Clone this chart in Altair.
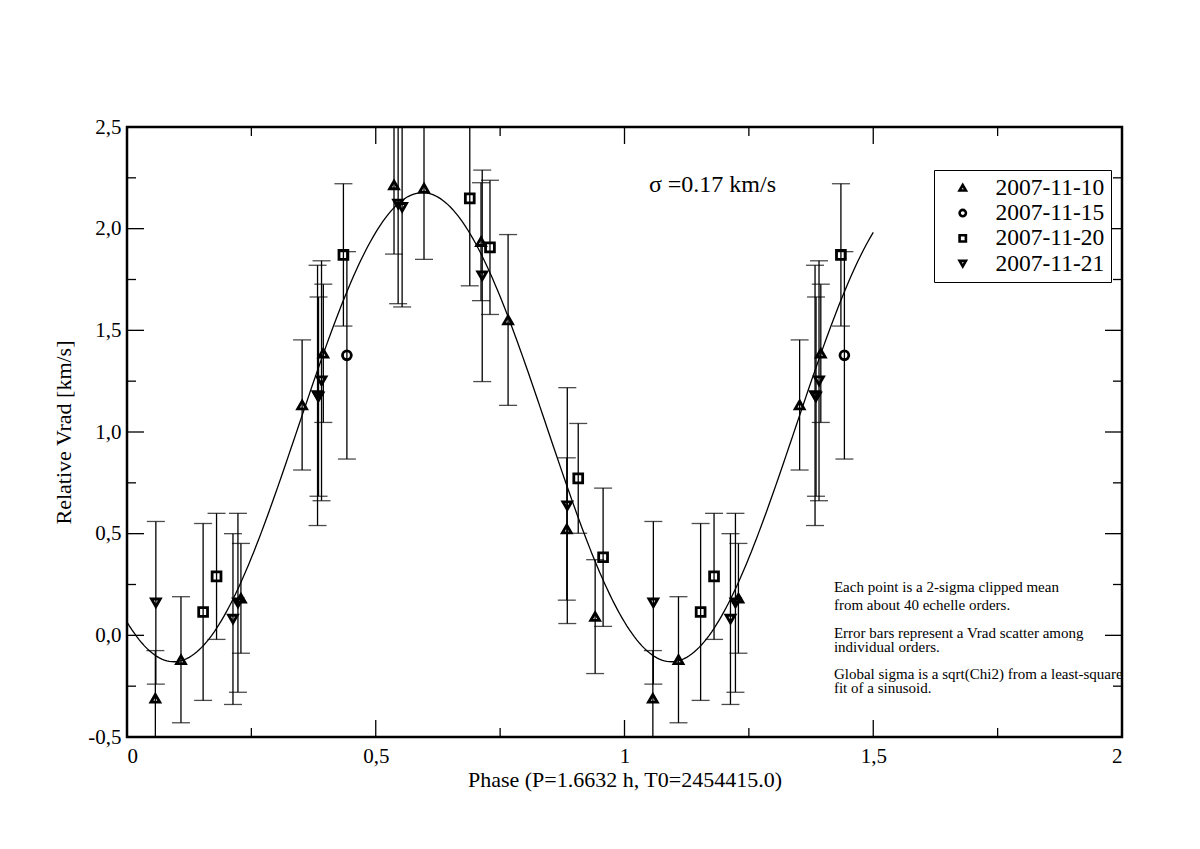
import altair as alt
import pandas as pd

# ---- data ----
dates = ["2007-11-10", "2007-11-15", "2007-11-20", "2007-11-21"]
shapes = ["triangle-up", "circle", "square", "triangle-down"]

d10_phase = [0.057, 0.1085, 0.229, 0.352, 0.3946, 0.5367, 0.597, 0.7116, 0.766, 0.884, 0.941]
d10_vrad = [-0.31, -0.12, 0.182, 1.133, 1.387, 2.215, 2.199, 1.936, 1.551, 0.523, 0.092]
d10_err = [0.235, 0.31, 0.27, 0.32, 0.34, 0.34, 0.35, 0.29, 0.42, 0.35, 0.28]

d15_phase = [0.442]
d15_vrad = [1.377]
d15_err = [0.51]

d20_phase = [0.153, 0.180, 0.435, 0.689, 0.7296, 0.907, 0.957]
d20_vrad = [0.115, 0.29, 1.871, 2.149, 1.908, 0.772, 0.384]
d20_err = [0.435, 0.31, 0.35, 0.43, 0.33, 0.27, 0.34]

d21_phase = [0.058, 0.213, 0.223, 0.383, 0.385, 0.391, 0.545, 0.553, 0.714, 0.885]
d21_vrad = [0.16, 0.08, 0.16, 1.18, 1.174, 1.252, 2.121, 2.105, 1.768, 0.638]
d21_err = [0.40, 0.42, 0.44, 0.64, 0.49, 0.59, 0.49, 0.49, 0.52, 0.58]

# sinusoid fit parameters
fit_mean = 1.0235
fit_amp = 1.1535
fit_phase_max = 0.594

x_major = [0, 0.5, 1, 1.5, 2]
x_minor = [0.25, 0.75, 1.25, 1.75]
y_major = [-0.5, 0.0, 0.5, 1.0, 1.5, 2.0, 2.5]
y_minor = [-0.25, 0.25, 0.75, 1.25, 1.75, 2.25]

notes = [
    "Each point is a 2-sigma clipped mean",
    "from about 40 echelle orders.",
    "Error bars represent a Vrad scatter among",
    "individual orders.",
    "Global sigma is a sqrt(Chi2) from a least-square",
    " fit of a sinusoid.",
]
notes_y = [0.238, 0.149, 0.012, -0.057, -0.190, -0.259]
notes_x = 1.421
sigma_text = "\u03c3 =0.17 km/s"

# ---- build tables ----
rows = []
for d, ph, v, e in [
    (dates[0], d10_phase, d10_vrad, d10_err),
    (dates[1], d15_phase, d15_vrad, d15_err),
    (dates[2], d20_phase, d20_vrad, d20_err),
    (dates[3], d21_phase, d21_vrad, d21_err),
]:
    for p, vv, ee in zip(ph, v, e):
        rows.append({"date": d, "phase": p, "vrad": vv, "err": ee})
df = pd.DataFrame(rows)
df_rep = df[df["phase"] < 0.5].copy()
df_rep["phase"] = df_rep["phase"] + 1.0
df = pd.concat([df, df_rep], ignore_index=True)
df["lo"] = df["vrad"] - df["err"]
df["hi"] = df["vrad"] + df["err"]

W, H = 995, 610
FONT = "Liberation Serif"

xs = alt.Scale(domain=[0, 2], nice=False, zero=False)
ys = alt.Scale(domain=[-0.5, 2.5], nice=False, zero=False)

base = alt.Chart(df)

xaxis = alt.Axis(values=x_major, ticks=False, tickSize=0, domain=False, grid=False,
                 labelFont=FONT, labelFontSize=21, labelColor="black", labelPadding=8,
                 labelExpr="replace(toString(datum.value), '.', ',')",
                 title="Phase (P=1.6632 h, T0=2454415.0)", titleFont=FONT, titleFontSize=22,
                 titleFontWeight="normal", titleColor="black", titlePadding=3)
yaxis = alt.Axis(values=y_major, ticks=False, tickSize=0, domain=False, grid=False,
                 labelFont=FONT, labelFontSize=21, labelColor="black", labelPadding=6,
                 labelExpr="(datum.value < 0 ? '-' : '') + replace(format(abs(datum.value), '.1f'), '.', ',')",
                 title="Relative Vrad [km/s]", titleFont=FONT, titleFontSize=22,
                 titleFontWeight="normal", titleColor="black", titlePadding=12)

err_rule = base.mark_rule(color="black", strokeWidth=1.3, clip=True).encode(
    x=alt.X("phase:Q", scale=xs, axis=xaxis),
    y=alt.Y("lo:Q", scale=ys, axis=yaxis),
    y2="hi:Q",
)
cap_lo = base.mark_tick(color="black", orient="horizontal", size=18, thickness=1.3, clip=True).encode(
    x="phase:Q", y="lo:Q")
cap_hi = base.mark_tick(color="black", orient="horizontal", size=18, thickness=1.3, clip=True).encode(
    x="phase:Q", y="hi:Q")

points = base.mark_point(filled=False, strokeWidth=2.8, size=78, opacity=1, clip=True).encode(
    x="phase:Q",
    y="vrad:Q",
    shape=alt.Shape("date:N", scale=alt.Scale(domain=dates, range=shapes),
                    legend=alt.Legend(title=None, orient="none", legendX=807, legendY=43,
                                      labelFont=FONT, labelFontSize=23.5, labelColor="black",
                                      strokeColor="black", fillColor="white", padding=6,
                                      rowPadding=0.3, symbolSize=40, symbolStrokeWidth=2.6,
                                      symbolStrokeColor="black", symbolOffset=11,
                                      labelOffset=21)),
    color=alt.value("black"),
)

curve = alt.Chart(alt.sequence(0, 1.5001, 0.005, as_="phase")).transform_calculate(
    vfit=f"{fit_mean} + {fit_amp} * cos(2 * PI * (datum.phase - {fit_phase_max}))"
).mark_line(color="black", strokeWidth=1.3).encode(x="phase:Q", y="vfit:Q")

# inward ticks on all four sides
xmaj = alt.Chart(pd.DataFrame({"t": x_major}))
xmin = alt.Chart(pd.DataFrame({"t": x_minor}))
ymaj = alt.Chart(pd.DataFrame({"t": y_major}))
ymin = alt.Chart(pd.DataFrame({"t": y_minor}))
tick_layers = []
for src, L in [(xmaj, 17), (xmin, 9)]:
    tick_layers.append(src.mark_rule(color="black", strokeWidth=1.3).encode(
        x="t:Q", y=alt.value(H), y2=alt.value(H - L)))
    tick_layers.append(src.mark_rule(color="black", strokeWidth=1.3).encode(
        x="t:Q", y=alt.value(0), y2=alt.value(L)))
for src, L in [(ymaj, 17), (ymin, 9)]:
    tick_layers.append(src.mark_rule(color="black", strokeWidth=1.3).encode(
        y="t:Q", x=alt.value(0), x2=alt.value(L)))
    tick_layers.append(src.mark_rule(color="black", strokeWidth=1.3).encode(
        y="t:Q", x=alt.value(W), x2=alt.value(W - L)))

# plot frame
frame = alt.Chart(pd.DataFrame({"k": [0]})).mark_rect(
    fill="transparent", stroke="black", strokeWidth=2.5).encode(
    x=alt.value(0), x2=alt.value(W), y=alt.value(0), y2=alt.value(H))

notes_df = pd.DataFrame({"text": notes, "y": notes_y, "x": [notes_x] * len(notes)})
notes_layer = alt.Chart(notes_df).mark_text(font=FONT, fontSize=15, align="left",
                                            baseline="middle", color="black").encode(
    x="x:Q", y="y:Q", text="text:N")

sigma_layer = alt.Chart(pd.DataFrame({"text": [sigma_text], "x": [1.049], "y": [2.215]})).mark_text(
    font=FONT, fontSize=24, align="left", baseline="middle", color="black").encode(
    x="x:Q", y="y:Q", text="text:N")

chart = alt.layer(err_rule, cap_lo, cap_hi, curve, points, *tick_layers, frame,
                  notes_layer, sigma_layer).properties(
    width=W, height=H,
    autosize=alt.AutoSizeParams(type="none"),
    padding={"left": 119, "top": 119, "right": 70, "bottom": 100},
).configure_view(stroke=None).configure_axis(
    labelFont=FONT, titleFont=FONT, labelColor="black", titleColor="black"
).configure(background="white", font=FONT)

chart.save("out.html", embed_options={"renderer": "svg", "actions": False})
